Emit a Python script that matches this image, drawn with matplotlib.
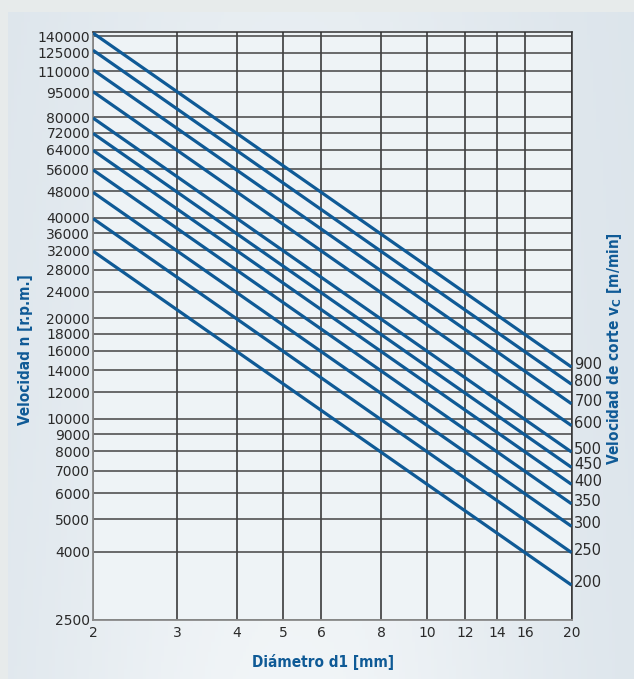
import numpy as np
import matplotlib
matplotlib.use("Agg")
import matplotlib.pyplot as plt
from matplotlib.ticker import FixedLocator, NullLocator, FixedFormatter
from matplotlib import font_manager
import matplotlib.transforms as mtransforms

# ---- data ----
cutting_speeds = [900, 800, 700, 600, 500, 450, 400, 350, 300, 250, 200]  # vc [m/min]
diam_start = 2
diam_end = 20
rpm_at_start = [143000, 127000, 111000, 95500, 79600, 71600, 63700, 55700, 47700, 39800, 31800]
rpm_at_end = [14300, 12700, 11100, 9550, 7960, 7160, 6370, 5570, 4770, 3980, 3180]

x_ticks = [2, 3, 4, 5, 6, 8, 10, 12, 14, 16, 20]
y_ticks = [140000, 125000, 110000, 95000, 80000, 72000, 64000, 56000, 48000,
           40000, 36000, 32000, 28000, 24000, 20000, 18000, 16000, 14000, 12000,
           10000, 9000, 8000, 7000, 6000, 5000, 4000, 2500]

BLUE = "#0f5a96"

names = {f.name for f in font_manager.fontManager.ttflist}
cond = [f for f in font_manager.fontManager.ttflist
        if f.name == "DejaVu Sans" and f.stretch == "condensed" and f.weight in (700, "bold")]
if "Liberation Sans Narrow" in names:
    LABEL_KW = dict(family="Liberation Sans Narrow", fontweight="bold", fontsize=12)
elif cond:
    LABEL_KW = dict(family="DejaVu Sans", fontstretch="condensed", fontweight="bold", fontsize=11)
else:
    LABEL_KW = dict(family="DejaVu Sans", fontweight="bold", fontsize=10)

fig = plt.figure(figsize=(6.34, 6.79), dpi=100)
fig.patch.set_facecolor("#e7ebeb")

# background panel with soft gradient
bg = fig.add_axes([8/634, 0, 1 - 8/634, 1 - 12/679])
bg.set_axis_off()
gx = np.linspace(0, 1, 200)
gy = np.linspace(0, 1, 200)
GX, GY = np.meshgrid(gx, gy)
c_edge = np.array([0.855, 0.890, 0.918])
c_mid = np.array([0.945, 0.960, 0.970])
w = np.exp(-((GX - 0.45) ** 2) / 0.18) * (0.6 + 0.4 * GY)
img = c_edge[None, None, :] * (1 - w[..., None]) + c_mid[None, None, :] * w[..., None]
bg.imshow(img, aspect="auto", extent=[0, 1, 0, 1], origin="upper")

ax = fig.add_axes([93/634, 59/679, (571.5 - 93)/634, (620 - 32)/679])
ax.set_facecolor("#eef3f6")
ax.set_xscale("log")
ax.set_yscale("log")
ax.set_xlim(2, 20)
ax.set_ylim(2500, 144000)

for vc, n0, n1 in zip(cutting_speeds, rpm_at_start, rpm_at_end):
    ax.plot([diam_start, diam_end], [n0, n1], color=BLUE, lw=2.3, solid_capstyle="butt", zorder=3)

ax.xaxis.set_major_locator(FixedLocator(x_ticks))
ax.xaxis.set_major_formatter(FixedFormatter([str(v) for v in x_ticks]))
ax.xaxis.set_minor_locator(NullLocator())
ax.yaxis.set_major_locator(FixedLocator(y_ticks))
ax.yaxis.set_major_formatter(FixedFormatter([str(v) for v in y_ticks]))
ax.yaxis.set_minor_locator(NullLocator())
ax.tick_params(axis="both", length=0, labelsize=10, colors="#2a2a2a", pad=2)
ax.tick_params(axis="x", pad=4)

for xv in x_ticks:
    ax.axvline(xv, color="#2b2b2b", lw=1.1, zorder=1)
for yv in y_ticks:
    ax.axhline(yv, color="#444444", lw=1.1, zorder=1)

for s in ["left", "bottom"]:
    ax.spines[s].set_color("#8a8a8a")
    ax.spines[s].set_linewidth(1.3)
for s in ["top", "right"]:
    ax.spines[s].set_color("#333333")
    ax.spines[s].set_linewidth(1.1)

# right-hand labels for cutting speed
ax2 = ax.twinx()
ax2.set_yscale("log")
ax2.set_ylim(ax.get_ylim())
ax2.yaxis.set_major_locator(FixedLocator(rpm_at_end))
ax2.yaxis.set_major_formatter(FixedFormatter([str(v) for v in cutting_speeds]))
ax2.yaxis.set_minor_locator(NullLocator())
ax2.tick_params(axis="y", length=0, labelsize=10.5, colors="#2a2a2a", pad=2)
for s in ax2.spines.values():
    s.set_visible(False)
offset = mtransforms.ScaledTranslation(0, 4/100, fig.dpi_scale_trans)
for lab in ax2.get_yticklabels():
    lab.set_transform(lab.get_transform() + offset)

fig.text(0.040, 1 - 350/679, "Velocidad n [r.p.m.]", rotation=90, ha="center", va="center",
         color=BLUE, **LABEL_KW)
fig.text(615/634, 1 - 349/679, r"Velocidad de corte v$_\mathbf{C}$ [m/min]", rotation=90,
         ha="center", va="center", color=BLUE, **LABEL_KW)
fig.text(323/634, 1 - 662/679, "Diámetro d1 [mm]", ha="center", va="center",
         color=BLUE, **LABEL_KW)

fig.savefig("out.png", dpi=100, facecolor=fig.get_facecolor())
